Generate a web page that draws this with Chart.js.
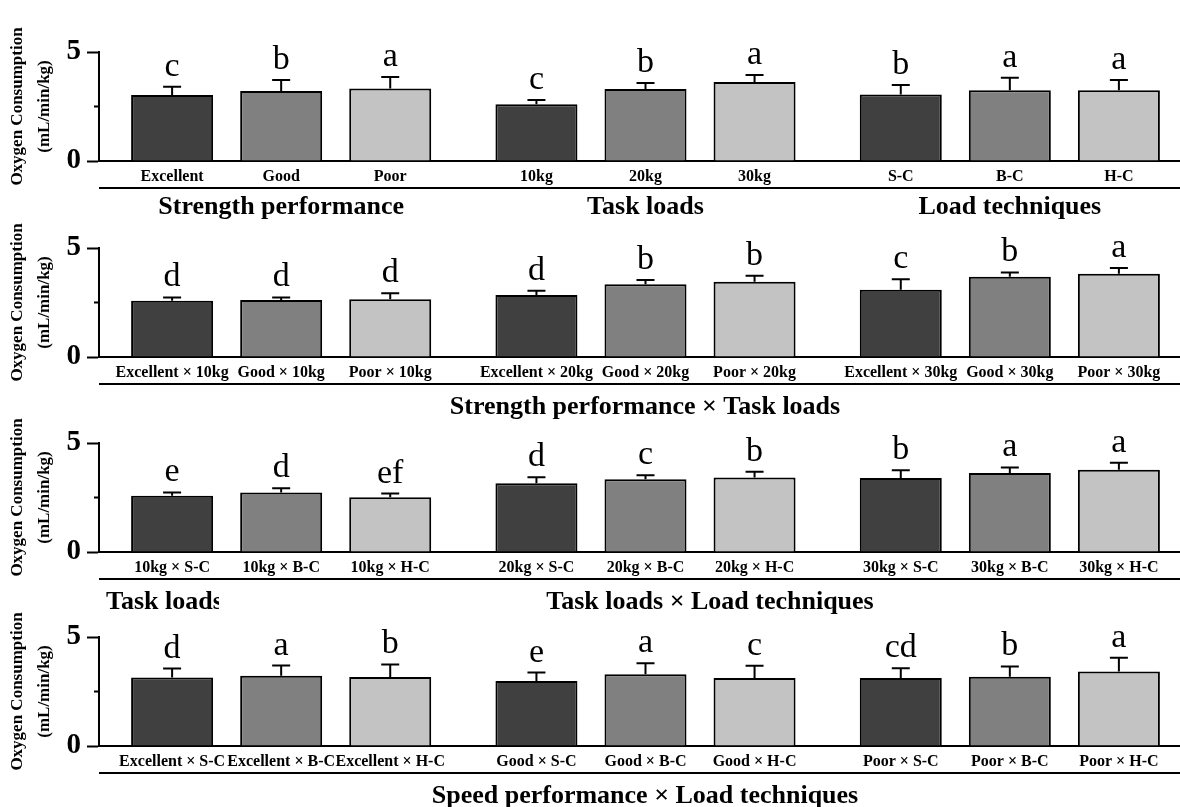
<!DOCTYPE html>
<html>
<head>
<meta charset="utf-8">
<script src="https://cdn.jsdelivr.net/npm/chart.js@4.4.0/dist/chart.umd.min.js"></script>
<style>
body { margin: 0; background: #fff; overflow: hidden; width: 1180px; height: 807px; position: relative; }
canvas { position: absolute; left: 0; }
</style>
</head>
<body>
<canvas id="panel1" width="1192" height="230" style="top:0px"></canvas>
<canvas id="panel2" width="1192" height="230" style="top:196px"></canvas>
<canvas id="panel3" width="1192" height="230" style="top:391px"></canvas>
<canvas id="panel4" width="1192" height="230" style="top:585px"></canvas>
<script>
// Panel 1: main effects
var groupNames = ['Strength performance', 'Task loads', 'Load techniques'];
var p1Labels = ['Excellent', 'Good', 'Poor', '10kg', '20kg', '30kg', 'S-C', 'B-C', 'H-C'];
var p1Means = [3.03, 3.21, 3.32, 2.60, 3.30, 3.62, 3.05, 3.25, 3.25];
var p1Sd = [0.38, 0.51, 0.53, 0.20, 0.28, 0.32, 0.44, 0.57, 0.47];
var p1Letters = ['c', 'b', 'a', 'c', 'b', 'a', 'b', 'a', 'a'];

// Panel 2: strength performance x task loads
var p2Labels = ['Excellent × 10kg', 'Good × 10kg', 'Poor × 10kg', 'Excellent × 20kg', 'Good × 20kg', 'Poor × 20kg', 'Excellent × 30kg', 'Good × 30kg', 'Poor × 30kg'];
var p2Means = [2.58, 2.62, 2.65, 2.84, 3.34, 3.45, 3.08, 3.68, 3.82];
var p2Sd = [0.15, 0.11, 0.28, 0.20, 0.19, 0.28, 0.49, 0.20, 0.26];
var p2Letters = ['d', 'd', 'd', 'd', 'b', 'b', 'c', 'b', 'a'];

// Panel 3: task loads x load techniques
var p3Labels = ['10kg × S-C', '10kg × B-C', '10kg × H-C', '20kg × S-C', '20kg × B-C', '20kg × H-C', '30kg × S-C', '30kg × B-C', '30kg × H-C'];
var p3Means = [2.58, 2.73, 2.51, 3.15, 3.34, 3.42, 3.40, 3.62, 3.77];
var p3Sd = [0.15, 0.19, 0.17, 0.28, 0.18, 0.26, 0.35, 0.26, 0.32];
var p3Letters = ['e', 'd', 'ef', 'd', 'c', 'b', 'b', 'a', 'a'];

// Panel 4: speed performance x load techniques
var p4Labels = ['Excellent × S-C', 'Excellent × B-C', 'Excellent × H-C', 'Good × S-C', 'Good × B-C', 'Good × H-C', 'Poor × S-C', 'Poor × B-C', 'Poor × H-C'];
var p4Means = [3.14, 3.22, 3.17, 2.98, 3.29, 3.12, 3.12, 3.18, 3.42];
var p4Sd = [0.41, 0.47, 0.57, 0.39, 0.51, 0.56, 0.45, 0.47, 0.63];
var p4Letters = ['d', 'a', 'b', 'e', 'a', 'c', 'cd', 'b', 'a'];

var barColors = ['#404040', '#808080', '#c3c3c3'];
var serif = '"Liberation Serif", "Times New Roman", serif';

Chart.defaults.font.family = serif;
Chart.defaults.color = '#000';

function notesPlugin(panel) {
    return {
        id: 'notes',
        afterDatasetsDraw: function(chart) {
            var ctx = chart.ctx;
            var yScale = chart.scales.y;
            var area = chart.chartArea;
            ctx.save();
            ctx.strokeStyle = '#000';
            ctx.fillStyle = '#000';
            ctx.lineWidth = 2;
            ctx.textAlign = 'center';
            ctx.textBaseline = 'alphabetic';

            chart.data.datasets.forEach(function(ds, d) {
                chart.getDatasetMeta(d).data.forEach(function(bar, g) {
                    var k = g * 3 + d;
                    var top = yScale.getPixelForValue(panel.means[k] + panel.sd[k]);
                    ctx.beginPath();
                    ctx.moveTo(bar.x, bar.y);
                    ctx.lineTo(bar.x, top);
                    ctx.moveTo(bar.x - 9, top);
                    ctx.lineTo(bar.x + 9, top);
                    ctx.stroke();

                    ctx.font = '34px ' + serif;
                    ctx.fillText(panel.letters[k], bar.x, top - 11);

                    ctx.font = 'bold 16px ' + serif;
                    ctx.fillText(panel.labels[k], bar.x, area.bottom + 20);
                });
            });

            // minor tick at 2.5
            var mid = yScale.getPixelForValue(2.5);
            ctx.beginPath();
            ctx.moveTo(area.left - 5, mid);
            ctx.lineTo(area.left, mid);
            ctx.stroke();

            // line under the category labels
            ctx.beginPath();
            ctx.moveTo(area.left, area.bottom + 27);
            ctx.lineTo(chart.width, area.bottom + 27);
            ctx.stroke();

            (panel.captions || []).forEach(function(c) {
                ctx.save();
                if (c.clip) {
                    ctx.beginPath();
                    ctx.rect(0, 0, c.clip, chart.height);
                    ctx.clip();
                }
                ctx.font = 'bold 26px ' + serif;
                ctx.textAlign = c.align || 'center';
                ctx.fillText(c.text, c.x, area.bottom + 57);
                ctx.restore();
            });
            ctx.restore();
        }
    };
}

function makePanel(id, panel) {
    var datasets = [0, 1, 2].map(function(d) {
        return {
            data: [panel.means[d], panel.means[3 + d], panel.means[6 + d]],
            backgroundColor: barColors[d],
            borderColor: '#000',
            borderWidth: 2,
            categoryPercentage: 0.898,
            barPercentage: 0.752
        };
    });

    return new Chart(document.getElementById(id), {
        type: 'bar',
        data: { labels: panel.groups, datasets: datasets },
        options: {
            responsive: false,
            animation: false,
            devicePixelRatio: 1,
            layout: { padding: { top: 52, left: 0, right: 0, bottom: 0 } },
            plugins: { legend: { display: false }, tooltip: { enabled: false } },
            scales: {
                x: {
                    grid: { display: false, drawTicks: false },
                    border: { display: true, color: '#000', width: 2 },
                    ticks: {
                        display: panel.groups[0] !== '',
                        font: { size: 26, weight: 'bold' },
                        padding: 31,
                        maxRotation: 0
                    },
                    afterFit: function(scale) { scale.height = 69; }
                },
                y: {
                    min: 0,
                    max: 5,
                    ticks: { stepSize: 5, font: { size: 29, weight: 'bold' }, padding: 6 },
                    grid: { drawOnChartArea: false, drawTicks: true, tickLength: 12, tickWidth: 2, tickColor: '#000' },
                    border: { display: true, color: '#000', width: 2 },
                    title: {
                        display: true,
                        text: ['Oxygen Consumption', '(mL/min/kg)'],
                        font: { size: 17, weight: 'bold', lineHeight: 1.6 },
                        padding: { top: 4, bottom: 0 }
                    },
                    afterFit: function(scale) { scale.width = 99; }
                }
            }
        },
        plugins: [notesPlugin(panel)]
    });
}

makePanel('panel1', {
    groups: groupNames, labels: p1Labels, means: p1Means, sd: p1Sd, letters: p1Letters
});
makePanel('panel2', {
    groups: ['', '', ''], labels: p2Labels, means: p2Means, sd: p2Sd, letters: p2Letters,
    captions: [{ text: 'Strength performance × Task loads', x: 645 }]
});
makePanel('panel3', {
    groups: ['', '', ''], labels: p3Labels, means: p3Means, sd: p3Sd, letters: p3Letters,
    captions: [
        { text: 'Task loads', x: 106, align: 'left', clip: 219 },
        { text: 'Task loads × Load techniques', x: 710 }
    ]
});
makePanel('panel4', {
    groups: ['', '', ''], labels: p4Labels, means: p4Means, sd: p4Sd, letters: p4Letters,
    captions: [{ text: 'Speed performance × Load techniques', x: 645 }]
});
</script>
</body>
</html>
